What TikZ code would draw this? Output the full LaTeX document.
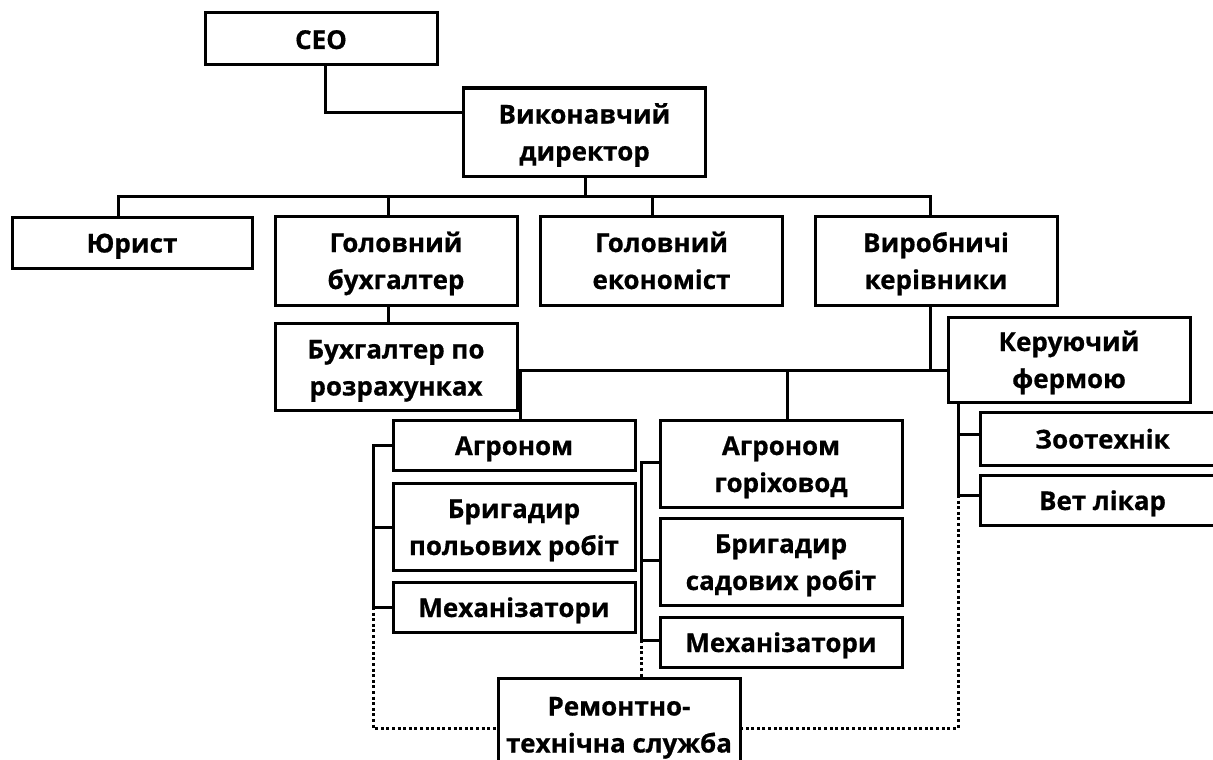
\documentclass[tikz,border=0pt]{standalone}
\usepackage{fontspec}
\setmainfont{Open Sans}[BoldFeatures={FakeBold=0.6}]
\newcommand\topstrut{\rule{0pt}{28pt}}
\newcommand\botstrut{\rule[-8pt]{0pt}{8pt}}
\newcommand\one[1]{\topstrut#1\botstrut}
\newcommand\two[2]{\topstrut#1\\#2\botstrut}
\begin{document}
\begin{tikzpicture}[x=1pt,y=-1pt,
  box/.style={draw, line width=3pt, fill=white, align=center, inner sep=0pt,
    font=\fontsize{26}{37}\selectfont\bfseries, minimum width=242pt},
  link/.style={line width=3pt},
  dot/.style={line width=3pt, dash pattern=on 3pt off 2.6pt}]
\useasboundingbox (0,0) rectangle (1213,760);
\node[box, minimum width=232pt, minimum height=52pt] (ceo) at (321,39) {\one{CEO}};
\node[box, minimum height=88pt] (vd) at (584.5,132) {\two{Виконавчий}{директор}};
\node[box, minimum width=240pt, minimum height=51pt] (yur) at (132,242.5) {\one{Юрист}};
\node[box, minimum height=89pt] (gb) at (396,260.5) {\two{Головний}{бухгалтер}};
\node[box, minimum height=89pt] (ge) at (661.5,260.5) {\two{Головний}{економіст}};
\node[box, minimum height=89pt] (vk) at (936,260.5) {\two{Виробничі}{керівники}};
\node[box, minimum height=87pt] (br) at (396,367) {\two{Бухгалтер по}{розрахунках}};
\node[box, minimum height=85pt] (kf) at (1069,359.5) {\two{Керуючий}{фермою}};
\node[box, minimum height=50pt] (agr) at (514,445) {\one{Агроном}};
\node[box, minimum height=87pt] (bpr) at (514,526.5) {\two{Бригадир}{польових робіт}};
\node[box, minimum height=50pt] (me1) at (514,607) {\one{Механізатори}};
\node[box, minimum height=87pt] (agh) at (781,463.5) {\two{Агроном}{горіховод}};
\node[box, minimum height=87pt] (bsr) at (781,561.5) {\two{Бригадир}{садових робіт}};
\node[box, minimum height=50pt] (me2) at (781,642) {\one{Механізатори}};
\node[box, minimum height=92pt] (rem) at (619,724) {\two{Ремонтно-}{технічна служба}};
\node[box, minimum width=245pt, minimum height=53pt] (zoo) at (1102.5,438.5) {\one{Зоотехнік}};
\node[box, minimum width=245pt, minimum height=50pt] (vet) at (1102.5,500) {\one{Вет лікар}};
% coordinates
\coordinate (c1) at (325,112);
\coordinate (bus1) at (585,196);
\coordinate (bus2) at (930,370);
\coordinate (lb) at (373,607);
\coordinate (rb) at (641,640);
\coordinate (kb) at (958,495);
% connectors
\draw[link] (ceo.south -| c1) -- (c1) -- (c1 -| vd.west);
\draw[link] (vd.south -| bus1) -- (bus1);
\draw[link] (yur.north -| 118,0) |- (bus1) -| (vk.north -| 930,0);
\draw[link] (gb.north -| 388,0) -- (388,196);
\draw[link] (ge.north -| 652,0) -- (652,196);
\draw[link] (gb.south -| 388,0) -- (br.north -| 388,0);
\draw[link] (vk.south -| bus2) -- (bus2);
\draw[link] (agr.north -| 520,0) |- (bus2) -- (bus2 -| kf.west);
\draw[link] (agh.north -| 787,0) -- (787,370);
\draw[link] (agr.west |- 0,445) -| (lb) -- (me1.west |- lb);
\draw[link] (bpr.west |- 0,527) -- (373,527);
\draw[link] (agh.west |- 0,462) -| (rb) -- (me2.west |- rb);
\draw[link] (bsr.west |- 0,560) -- (641,560);
\draw[link] (kf.south -| kb) -- (kb) -- (vet.west |- kb);
\draw[link] (zoo.west |- 0,434) -- (958,434);
\draw[dot] (lb) |- (rem.west |- 0,728);
\draw[dot] (rb) -- (rem.north -| rb);
\draw[dot] (kb) |- (rem.east |- 0,728);
\end{tikzpicture}
\end{document}
